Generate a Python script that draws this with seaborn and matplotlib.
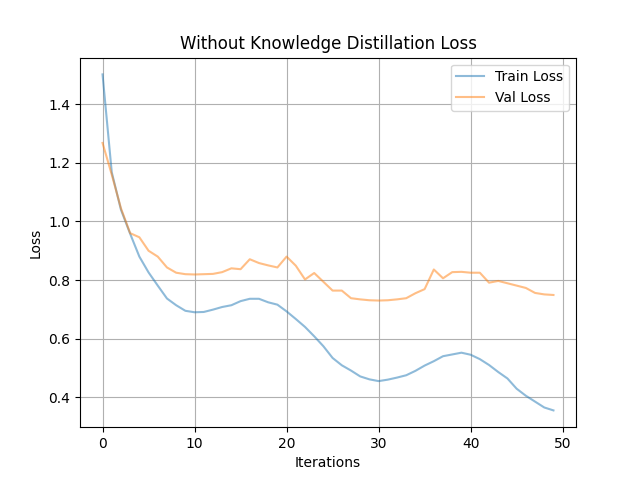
import matplotlib
matplotlib.use("Agg")
import matplotlib.pyplot as plt
import seaborn as sns
import pandas as pd
import numpy as np

iterations = list(range(50))
train_loss = [1.502, 1.168, 1.040, 0.958, 0.880, 0.826, 0.781, 0.737, 0.714, 0.695,
              0.690, 0.691, 0.699, 0.708, 0.714, 0.728, 0.736, 0.736, 0.724, 0.716,
              0.693, 0.667, 0.640, 0.608, 0.574, 0.534, 0.509, 0.491, 0.471, 0.461,
              0.455, 0.460, 0.467, 0.475, 0.490, 0.508, 0.523, 0.540, 0.546, 0.552,
              0.545, 0.530, 0.510, 0.486, 0.464, 0.429, 0.405, 0.385, 0.365, 0.355]
val_loss = [1.268, 1.160, 1.045, 0.960, 0.946, 0.900, 0.880, 0.843, 0.825, 0.820,
            0.819, 0.820, 0.821, 0.827, 0.840, 0.837, 0.871, 0.858, 0.850, 0.843,
            0.880, 0.849, 0.802, 0.824, 0.794, 0.764, 0.764, 0.738, 0.734, 0.731,
            0.730, 0.731, 0.734, 0.738, 0.755, 0.769, 0.836, 0.806, 0.827, 0.828,
            0.825, 0.825, 0.791, 0.797, 0.789, 0.781, 0.773, 0.756, 0.751, 0.749]

fig, ax = plt.subplots(figsize=(6.4, 4.8), dpi=100)
sns.lineplot(x=iterations, y=train_loss, ax=ax, label="Train Loss", color="tab:blue", alpha=0.5)
sns.lineplot(x=iterations, y=val_loss, ax=ax, label="Val Loss", color="tab:orange", alpha=0.5)
ax.set_title("Without Knowledge Distillation Loss")
ax.set_xlabel("Iterations")
ax.set_ylabel("Loss")
ax.grid(True)
ax.legend(loc="upper right")
fig.savefig("out.png", dpi=100)
